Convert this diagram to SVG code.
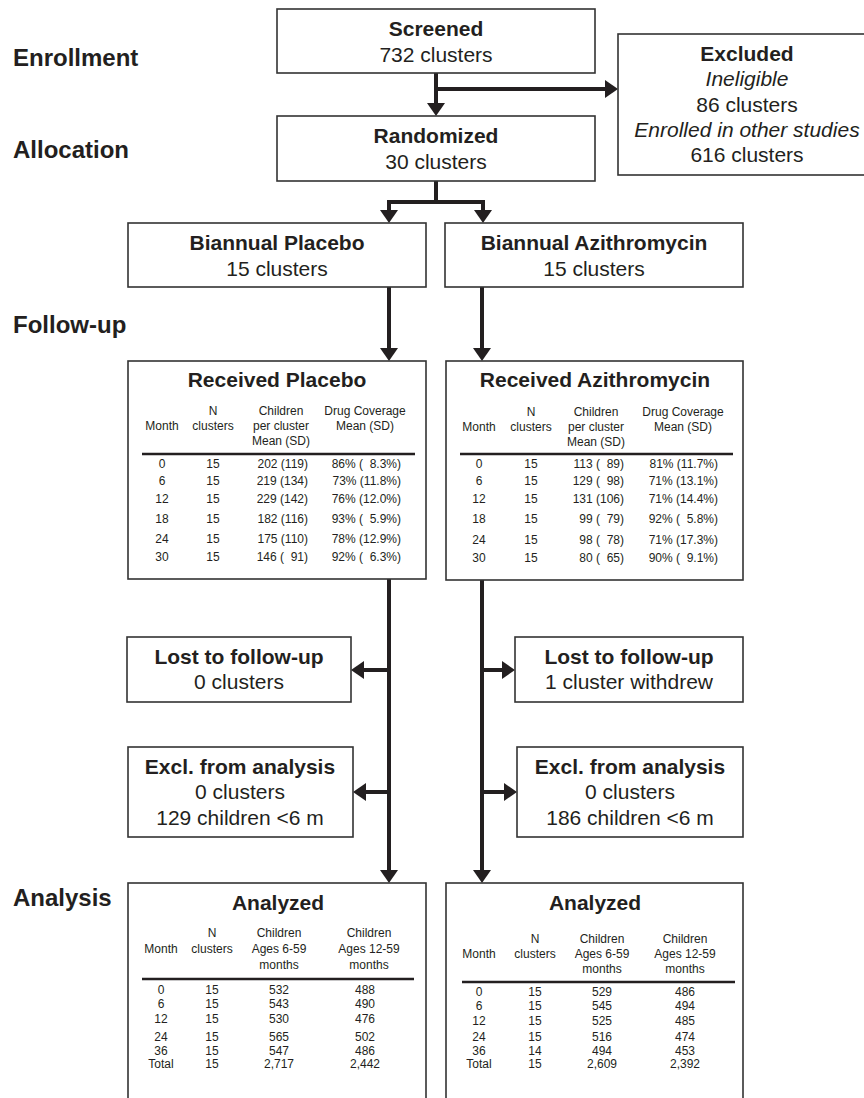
<svg xmlns="http://www.w3.org/2000/svg" width="864" height="1098" viewBox="0 0 864 1098">
<defs>
<style>
text{font-family:"Liberation Sans",Arial,sans-serif;fill:#231f20}
.stage{font-size:24px;font-weight:bold}
.b{font-size:21px;font-weight:bold;text-anchor:middle}
.r{font-size:21px;text-anchor:middle}
.i{font-size:21px;font-style:italic;text-anchor:middle}
.box{fill:#fff;stroke:#333;stroke-width:1.6}
.t{font-size:12px;text-anchor:middle}
.te{font-size:12px;text-anchor:end;white-space:pre}
.hl{stroke:#231f20;stroke-width:2.5}
.conn{fill:none;stroke:#231f20;stroke-width:4;stroke-linejoin:miter}
</style>
<marker id="ah" markerUnits="userSpaceOnUse" markerWidth="14" markerHeight="18" refX="3" refY="9" orient="auto" viewBox="0 0 13 18">
<path d="M0,0 L13,9 L0,18 z" fill="#231f20"/>
</marker>
</defs>
<rect width="864" height="1098" fill="#fff"/>

<g id="stages">
<text class="stage" x="13" y="66">Enrollment</text>
<text class="stage" x="13" y="158">Allocation</text>
<text class="stage" x="13" y="333">Follow-up</text>
<text class="stage" x="13" y="906">Analysis</text>
</g>

<g id="connectors">
<path class="conn" d="M436,73 V106" marker-end="url(#ah)"/>
<path class="conn" d="M436,89 H608" marker-end="url(#ah)"/>
<path class="conn" d="M436,181 V202 H389 V213" marker-end="url(#ah)"/>
<path class="conn" d="M436,202 H483 V213" marker-end="url(#ah)"/>
<path class="conn" d="M389,287 V351" marker-end="url(#ah)"/>
<path class="conn" d="M482,287 V351" marker-end="url(#ah)"/>
<path class="conn" d="M389,579 V873" marker-end="url(#ah)"/>
<path class="conn" d="M482,579 V873" marker-end="url(#ah)"/>
<path class="conn" d="M389,670 H361" marker-end="url(#ah)"/>
<path class="conn" d="M389,792 H363" marker-end="url(#ah)"/>
<path class="conn" d="M482,670 H505" marker-end="url(#ah)"/>
<path class="conn" d="M482,792 H507" marker-end="url(#ah)"/>
</g>

<g id="screened">
<rect class="box" x="277" y="9" width="318" height="64"/>
<text class="b" x="436" y="36">Screened</text>
<text class="r" x="436" y="62">732 clusters</text>
</g>

<g id="excluded">
<rect class="box" x="618" y="34" width="260" height="141"/>
<text class="b" x="747" y="61">Excluded</text>
<text class="i" x="747" y="86">Ineligible</text>
<text class="r" x="747" y="112">86 clusters</text>
<text class="i" x="747" y="137">Enrolled in other studies</text>
<text class="r" x="747" y="162">616 clusters</text>
</g>

<g id="randomized">
<rect class="box" x="277" y="116" width="318" height="65"/>
<text class="b" x="436" y="143">Randomized</text>
<text class="r" x="436" y="169">30 clusters</text>
</g>

<g id="biannual-placebo">
<rect class="box" x="128" y="223" width="298" height="64"/>
<text class="b" x="277" y="250">Biannual Placebo</text>
<text class="r" x="277" y="276">15 clusters</text>
</g>

<g id="biannual-azithromycin">
<rect class="box" x="445" y="223" width="298" height="64"/>
<text class="b" x="594" y="250">Biannual Azithromycin</text>
<text class="r" x="594" y="276">15 clusters</text>
</g>

<g id="received-placebo">
<rect class="box" x="128" y="361" width="298" height="218"/>
<text class="b" x="277" y="387">Received Placebo</text>
<text class="t" x="213" y="415">N</text>
<text class="t" x="281" y="415">Children</text>
<text class="t" x="365" y="415">Drug Coverage</text>
<text class="t" x="162" y="430">Month</text>
<text class="t" x="213" y="430">clusters</text>
<text class="t" x="281" y="430">per cluster</text>
<text class="t" x="365" y="430">Mean (SD)</text>
<text class="t" x="281" y="445">Mean (SD)</text>
<line class="hl" x1="142" y1="454" x2="415" y2="454"/>
<text class="t" x="162" y="468">0</text><text class="t" x="213" y="468">15</text><text class="te" x="308" y="468" xml:space="preserve">202 (119)</text><text class="te" x="401" y="468" xml:space="preserve">86% (  8.3%)</text>
<text class="t" x="162" y="485">6</text><text class="t" x="213" y="485">15</text><text class="te" x="308" y="485" xml:space="preserve">219 (134)</text><text class="te" x="401" y="485" xml:space="preserve">73% (11.8%)</text>
<text class="t" x="162" y="503">12</text><text class="t" x="213" y="503">15</text><text class="te" x="308" y="503" xml:space="preserve">229 (142)</text><text class="te" x="401" y="503" xml:space="preserve">76% (12.0%)</text>
<text class="t" x="162" y="523">18</text><text class="t" x="213" y="523">15</text><text class="te" x="308" y="523" xml:space="preserve">182 (116)</text><text class="te" x="401" y="523" xml:space="preserve">93% (  5.9%)</text>
<text class="t" x="162" y="543">24</text><text class="t" x="213" y="543">15</text><text class="te" x="308" y="543" xml:space="preserve">175 (110)</text><text class="te" x="401" y="543" xml:space="preserve">78% (12.9%)</text>
<text class="t" x="162" y="561">30</text><text class="t" x="213" y="561">15</text><text class="te" x="308" y="561" xml:space="preserve">146 (  91)</text><text class="te" x="401" y="561" xml:space="preserve">92% (  6.3%)</text>
</g>

<g id="received-azithromycin">
<rect class="box" x="446" y="361" width="297" height="219"/>
<text class="b" x="595" y="387">Received Azithromycin</text>
<text class="t" x="531" y="416">N</text>
<text class="t" x="596" y="416">Children</text>
<text class="t" x="683" y="416">Drug Coverage</text>
<text class="t" x="479" y="431">Month</text>
<text class="t" x="531" y="431">clusters</text>
<text class="t" x="596" y="431">per cluster</text>
<text class="t" x="683" y="431">Mean (SD)</text>
<text class="t" x="596" y="446">Mean (SD)</text>
<line class="hl" x1="460" y1="454" x2="733" y2="454"/>
<text class="t" x="479" y="468">0</text><text class="t" x="531" y="468">15</text><text class="te" x="624" y="468" xml:space="preserve">113 (  89)</text><text class="te" x="718" y="468" xml:space="preserve">81% (11.7%)</text>
<text class="t" x="479" y="485">6</text><text class="t" x="531" y="485">15</text><text class="te" x="624" y="485" xml:space="preserve">129 (  98)</text><text class="te" x="718" y="485" xml:space="preserve">71% (13.1%)</text>
<text class="t" x="479" y="503">12</text><text class="t" x="531" y="503">15</text><text class="te" x="624" y="503" xml:space="preserve">131 (106)</text><text class="te" x="718" y="503" xml:space="preserve">71% (14.4%)</text>
<text class="t" x="479" y="523">18</text><text class="t" x="531" y="523">15</text><text class="te" x="624" y="523" xml:space="preserve">99 (  79)</text><text class="te" x="718" y="523" xml:space="preserve">92% (  5.8%)</text>
<text class="t" x="479" y="544">24</text><text class="t" x="531" y="544">15</text><text class="te" x="624" y="544" xml:space="preserve">98 (  78)</text><text class="te" x="718" y="544" xml:space="preserve">71% (17.3%)</text>
<text class="t" x="479" y="562">30</text><text class="t" x="531" y="562">15</text><text class="te" x="624" y="562" xml:space="preserve">80 (  65)</text><text class="te" x="718" y="562" xml:space="preserve">90% (  9.1%)</text>
</g>

<g id="lost-placebo">
<rect class="box" x="127" y="637" width="224" height="65"/>
<text class="b" x="239" y="664">Lost to follow-up</text>
<text class="r" x="239" y="689">0 clusters</text>
</g>

<g id="lost-azithromycin">
<rect class="box" x="515" y="637" width="228" height="65"/>
<text class="b" x="629" y="664">Lost to follow-up</text>
<text class="r" x="629" y="689">1 cluster withdrew</text>
</g>

<g id="excl-placebo">
<rect class="box" x="128" y="747" width="225" height="90"/>
<text class="b" x="240" y="774">Excl. from analysis</text>
<text class="r" x="240" y="799">0 clusters</text>
<text class="r" x="240" y="825">129 children &lt;6 m</text>
</g>

<g id="excl-azithromycin">
<rect class="box" x="517" y="747" width="226" height="90"/>
<text class="b" x="630" y="774">Excl. from analysis</text>
<text class="r" x="630" y="799">0 clusters</text>
<text class="r" x="630" y="825">186 children &lt;6 m</text>
</g>

<g id="analyzed-placebo">
<rect class="box" x="128" y="883" width="298" height="220"/>
<text class="b" x="278" y="910">Analyzed</text>
<text class="t" x="212" y="937">N</text>
<text class="t" x="279" y="937">Children</text>
<text class="t" x="369" y="937">Children</text>
<text class="t" x="161" y="953">Month</text>
<text class="t" x="212" y="953">clusters</text>
<text class="t" x="279" y="953">Ages 6-59</text>
<text class="t" x="369" y="953">Ages 12-59</text>
<text class="t" x="279" y="969">months</text>
<text class="t" x="369" y="969">months</text>
<line class="hl" x1="142" y1="979" x2="414" y2="979"/>
<text class="t" x="161" y="994">0</text><text class="t" x="212" y="994">15</text><text class="t" x="279" y="994">532</text><text class="t" x="365" y="994">488</text>
<text class="t" x="161" y="1008">6</text><text class="t" x="212" y="1008">15</text><text class="t" x="279" y="1008">543</text><text class="t" x="365" y="1008">490</text>
<text class="t" x="161" y="1023">12</text><text class="t" x="212" y="1023">15</text><text class="t" x="279" y="1023">530</text><text class="t" x="365" y="1023">476</text>
<text class="t" x="161" y="1041">24</text><text class="t" x="212" y="1041">15</text><text class="t" x="279" y="1041">565</text><text class="t" x="365" y="1041">502</text>
<text class="t" x="161" y="1055">36</text><text class="t" x="212" y="1055">15</text><text class="t" x="279" y="1055">547</text><text class="t" x="365" y="1055">486</text>
<text class="t" x="161" y="1068">Total</text><text class="t" x="212" y="1068">15</text><text class="t" x="279" y="1068">2,717</text><text class="t" x="365" y="1068">2,442</text>
</g>

<g id="analyzed-azithromycin">
<rect class="box" x="446" y="883" width="297" height="220"/>
<text class="b" x="595" y="910">Analyzed</text>
<text class="t" x="535" y="943">N</text>
<text class="t" x="602" y="943">Children</text>
<text class="t" x="685" y="943">Children</text>
<text class="t" x="479" y="958">Month</text>
<text class="t" x="535" y="958">clusters</text>
<text class="t" x="602" y="958">Ages 6-59</text>
<text class="t" x="685" y="958">Ages 12-59</text>
<text class="t" x="602" y="973">months</text>
<text class="t" x="685" y="973">months</text>
<line class="hl" x1="462" y1="982" x2="735" y2="982"/>
<text class="t" x="479" y="996">0</text><text class="t" x="535" y="996">15</text><text class="t" x="602" y="996">529</text><text class="t" x="685" y="996">486</text>
<text class="t" x="479" y="1010">6</text><text class="t" x="535" y="1010">15</text><text class="t" x="602" y="1010">545</text><text class="t" x="685" y="1010">494</text>
<text class="t" x="479" y="1025">12</text><text class="t" x="535" y="1025">15</text><text class="t" x="602" y="1025">525</text><text class="t" x="685" y="1025">485</text>
<text class="t" x="479" y="1041">24</text><text class="t" x="535" y="1041">15</text><text class="t" x="602" y="1041">516</text><text class="t" x="685" y="1041">474</text>
<text class="t" x="479" y="1055">36</text><text class="t" x="535" y="1055">14</text><text class="t" x="602" y="1055">494</text><text class="t" x="685" y="1055">453</text>
<text class="t" x="479" y="1068">Total</text><text class="t" x="535" y="1068">15</text><text class="t" x="602" y="1068">2,609</text><text class="t" x="685" y="1068">2,392</text>
</g>
</svg>
